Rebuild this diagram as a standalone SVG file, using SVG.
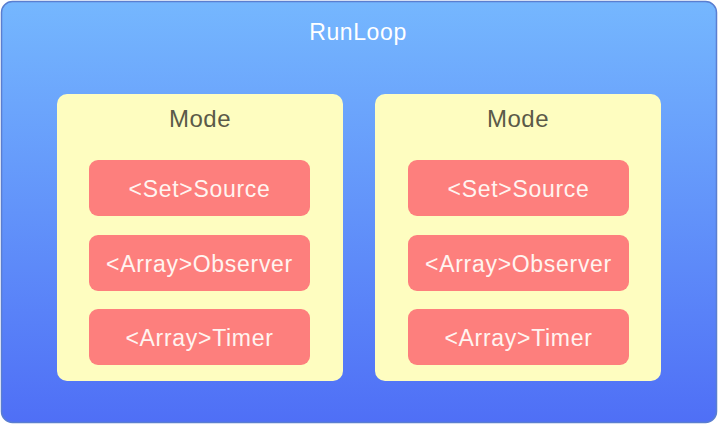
<svg xmlns="http://www.w3.org/2000/svg" width="718" height="424" viewBox="0 0 718 424">
<defs>
<linearGradient id="bg" x1="0" y1="0" x2="0" y2="1">
<stop offset="0" stop-color="#75b7fe"/>
<stop offset="1" stop-color="#4f6ff6"/>
</linearGradient>
</defs>
<style>
.mode{fill:#fefdc0;}
.item{fill:#fd7f7d;}
.t{font-family:"Liberation Sans",Arial,sans-serif;text-anchor:middle;}
.title{fill:#ffffff;font-size:23px;letter-spacing:0.6px;}
.mt{fill:#5b5a48;font-size:24px;letter-spacing:0.5px;}
.it{fill:#fff4f0;font-size:23px;letter-spacing:0.7px;}
</style>
<g id="runloop">
<rect x="1.5" y="1.5" width="715" height="421" rx="11" fill="url(#bg)" stroke="#5a7ed0" stroke-width="1.5"/>
<text class="t title" x="358" y="40">RunLoop</text>
</g>
<g id="mode1">
<rect class="mode" x="57" y="94" width="286" height="287" rx="10"/>
<text class="t mt" x="200" y="127">Mode</text>
</g>
<g id="mode1-source">
<rect class="item" x="89" y="160" width="221" height="56" rx="9"/>
<text class="t it" x="199.5" y="197">&lt;Set&gt;Source</text>
</g>
<g id="mode1-observer">
<rect class="item" x="89" y="235" width="221" height="56" rx="9"/>
<text class="t it" x="199.5" y="272">&lt;Array&gt;Observer</text>
</g>
<g id="mode1-timer">
<rect class="item" x="89" y="309" width="221" height="56" rx="9"/>
<text class="t it" x="199.5" y="346">&lt;Array&gt;Timer</text>
</g>
<g id="mode2">
<rect class="mode" x="375" y="94" width="286" height="287" rx="10"/>
<text class="t mt" x="518" y="127">Mode</text>
</g>
<g id="mode2-source">
<rect class="item" x="408" y="160" width="221" height="56" rx="9"/>
<text class="t it" x="518.5" y="197">&lt;Set&gt;Source</text>
</g>
<g id="mode2-observer">
<rect class="item" x="408" y="235" width="221" height="56" rx="9"/>
<text class="t it" x="518.5" y="272">&lt;Array&gt;Observer</text>
</g>
<g id="mode2-timer">
<rect class="item" x="408" y="309" width="221" height="56" rx="9"/>
<text class="t it" x="518.5" y="346">&lt;Array&gt;Timer</text>
</g>
<g id="connectors"></g>
</svg>
